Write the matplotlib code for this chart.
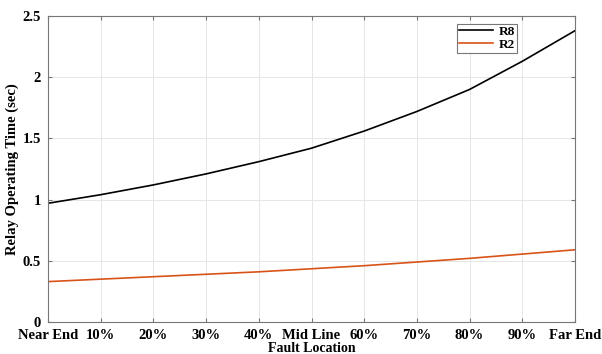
import matplotlib
matplotlib.use("Agg")
import matplotlib.pyplot as plt

locations = ['Near End', '10%', '20%', '30%', '40%', 'Mid Line',
             '60%', '70%', '80%', '90%', 'Far End']
r8_times = [0.97, 1.04, 1.12, 1.21, 1.31, 1.42, 1.56, 1.72, 1.90, 2.13, 2.38]
r2_times = [0.33, 0.35, 0.37, 0.39, 0.41, 0.435, 0.46, 0.49, 0.52, 0.555, 0.59]

plt.rcParams['font.family'] = 'Liberation Serif'
plt.rcParams['font.weight'] = 'bold'

fig = plt.figure(figsize=(6.02, 3.54), dpi=100)
ax = fig.add_axes([48 / 602, 1 - 322 / 354, 527 / 602, 306 / 354])

x = list(range(len(locations)))
ax.plot(x, r8_times, color='black', linewidth=1.2, label='R8')
ax.plot(x, r2_times, color='#d95319', linewidth=1.2, label='R2')

ax.set_xlim(0, len(locations) - 1)
ax.set_ylim(0, 2.5)
ax.set_xticks(x)
ax.set_xticklabels(locations, fontsize=10.5, fontweight='bold')
ax.set_yticks([0, 0.5, 1, 1.5, 2, 2.5])
ax.set_yticklabels(['0', '0.5', '1', '1.5', '2', '2.5'], fontsize=10.5, fontweight='bold')
ax.tick_params(direction='in', length=3, color='#777777')
ax.tick_params(axis='x', pad=5)
ax.tick_params(axis='y', pad=5)
ax.tick_params(top=True, right=True)
ax.grid(True, color='#e6e6e6', linewidth=0.7)
for s in ax.spines.values():
    s.set_color('#777777')
    s.set_linewidth(0.8)

ax.set_xlabel('Fault Location', fontsize=10, fontweight='bold', labelpad=0)
ax.set_ylabel('Relay Operating Time (sec)', fontsize=10.5, fontweight='bold', labelpad=3)

leg = ax.legend(loc='upper right', bbox_to_anchor=(0.89, 0.975),
                prop={'weight': 'bold', 'size': 9.5}, fancybox=False,
                edgecolor='#777777', framealpha=1, handlelength=2.6,
                borderpad=0.15, labelspacing=0.05, handletextpad=0.4,
                borderaxespad=0)
leg.get_frame().set_linewidth(0.8)

fig.savefig('out.png', dpi=100)
